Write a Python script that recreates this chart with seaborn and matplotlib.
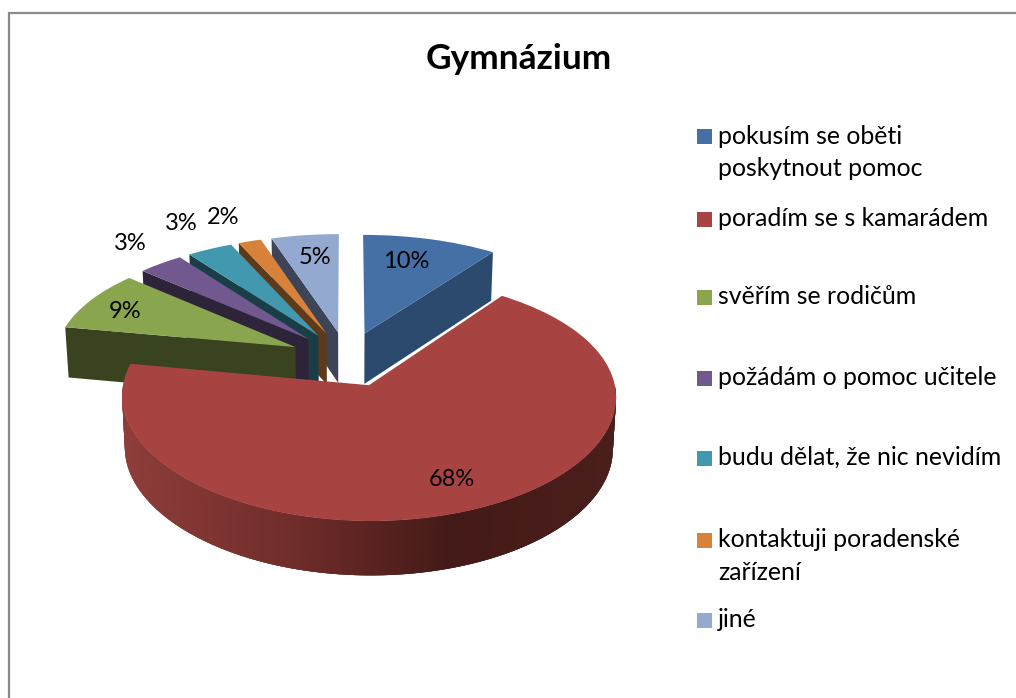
import matplotlib
matplotlib.use("Agg")
import numpy as np
import matplotlib.pyplot as plt
import seaborn as sns
from matplotlib.patches import Rectangle
from matplotlib.transforms import Transform

title = "Gymnázium"
categories = [
    "pokusím se oběti\nposkytnout pomoc",
    "poradím se s kamarádem",
    "svěřím se rodičům",
    "požádám o pomoc učitele",
    "budu dělat, že nic nevidím",
    "kontaktuji poradenské\nzařízení",
    "jiné",
]
# shares, the labels show them rounded
values = [10.0, 67.9, 8.6, 3.4, 3.4, 1.7, 5.0]

top_colors = ["#4470A5", "#A74341", "#89A54E", "#71588F", "#4198AF", "#D8813B", "#93A9CF"]
wall_colors = ["#2C4A6E", "#A74341", "#3A431F", "#2E2439", "#1A3E48", "#5D3A1A", "#3D4457"]

# where things sit on the picture, in pixels
label_xy = [(406, 261), (452, 479), (125, 311), (130, 243), (181, 223), (223, 217), (315, 257)]
legend_y = [136.5, 219, 297, 378, 458, 540, 620]

# 3d look of the excel pie
CX, CY, RX, RY, PERSP_X, PERSP_Y, DEPTH = 347, 359, 241, 114.7, 0.09, 0.11, 51


def project(X, Y, depth=0.0):
    Y = np.asarray(Y)
    x = CX + RX * np.asarray(X) / (1 + PERSP_X * Y) * (1 - 0.012 * depth / DEPTH)
    y = CY - RY * Y / (1 + PERSP_Y * Y) + depth / (1 + 0.05 * Y)
    return x, y


class TiltTransform(Transform):
    input_dims = 2
    output_dims = 2

    def transform_non_affine(self, values):
        x, y = project(values[:, 0], values[:, 1])
        return np.column_stack([x, y])


sns.set_theme(style="white")
plt.rcParams["font.family"] = ["Lato", "DejaVu Sans"]
palette = sns.color_palette(top_colors)

fig = plt.figure(figsize=(10.16, 6.98), dpi=100)
ax = fig.add_axes([0, 0, 1, 1])

wedges, _ = ax.pie(values, colors=palette, explode=[0.24] * len(values),
                   startangle=90, counterclock=False, radius=1)
ax.set_aspect("auto")
ax.set_xlim(0, 1016)
ax.set_ylim(698, 0)
ax.axis("off")

tilt = TiltTransform()
# back slices first, the big red one last
for order, i in enumerate([6, 5, 4, 3, 2, 0, 1]):
    w = wedges[i]
    cx, cy = w.center
    w.set_transform(tilt + ax.transData)
    w.set_zorder(2 * order + 2)
    w.set_edgecolor("none")
    if i == 1:
        # outer wall of the red slice, gets darker to the right
        angles = np.radians(np.linspace(w.theta1, w.theta2, 500))
        angles = angles[np.sin(angles) < 0]
        angles = angles[np.argsort(np.cos(angles))]
        X = cx + np.cos(angles)
        Y = cy + np.sin(angles)
        xt, yt = project(X, Y)
        xb, yb = project(X, Y, DEPTH)
        stops_x = [125, 300, 450, 616]
        stops_rgb = np.array([matplotlib.colors.to_rgb(c) for c in ["#8E3D3A", "#6E2C2A", "#441A18", "#4A1E1B"]])
        # strips overlap the next one so no seams show
        for j in range(len(angles) - 3):
            mid = (xt[j] + xt[j + 1]) / 2
            col = [np.interp(mid, stops_x, stops_rgb[:, k]) for k in range(3)]
            ax.fill([xt[j], xt[j + 3], xb[j + 3], xb[j]], [yt[j], yt[j + 3], yb[j + 3], yb[j]],
                    color=col, lw=0, zorder=2 * order + 1)
    else:
        # radial wall that faces the viewer
        a = np.radians(w.theta1 if cx > 0 else w.theta2)
        X = np.array([cx + np.cos(a), cx])
        Y = np.array([cy + np.sin(a), cy])
        xt, yt = project(X, Y)
        xb, yb = project(X, Y, DEPTH)
        ax.fill([xt[0], xt[1], xb[1], xb[0]], [yt[0], yt[1], yb[1], yb[0]],
                color=wall_colors[i], lw=0, zorder=2 * order + 1)

for v, (lx, ly) in zip(values, label_xy):
    ax.text(lx, ly, f"{v:.0f}%", ha="center", va="center", fontsize=17, color="black", zorder=30)

ax.text(519, 59, title, ha="center", va="center", fontsize=25.4, fontweight="bold", color="black")

for name, col, ly in zip(categories, palette, legend_y):
    ax.add_patch(Rectangle((697, ly - 7.5), 15, 15, facecolor=col, edgecolor="none"))
    for n, line in enumerate(name.split("\n")):
        ax.text(718, ly + 7 + 33 * n, line, ha="left", va="baseline", fontsize=17.9, color="black")

# chart frame, runs off the right and bottom of the crop
ax.plot([8.5, 8.5, 1016], [698, 13, 13], color="#8A8A8A", lw=1.6, solid_joinstyle="miter")

fig.savefig("out.png", dpi=100)
